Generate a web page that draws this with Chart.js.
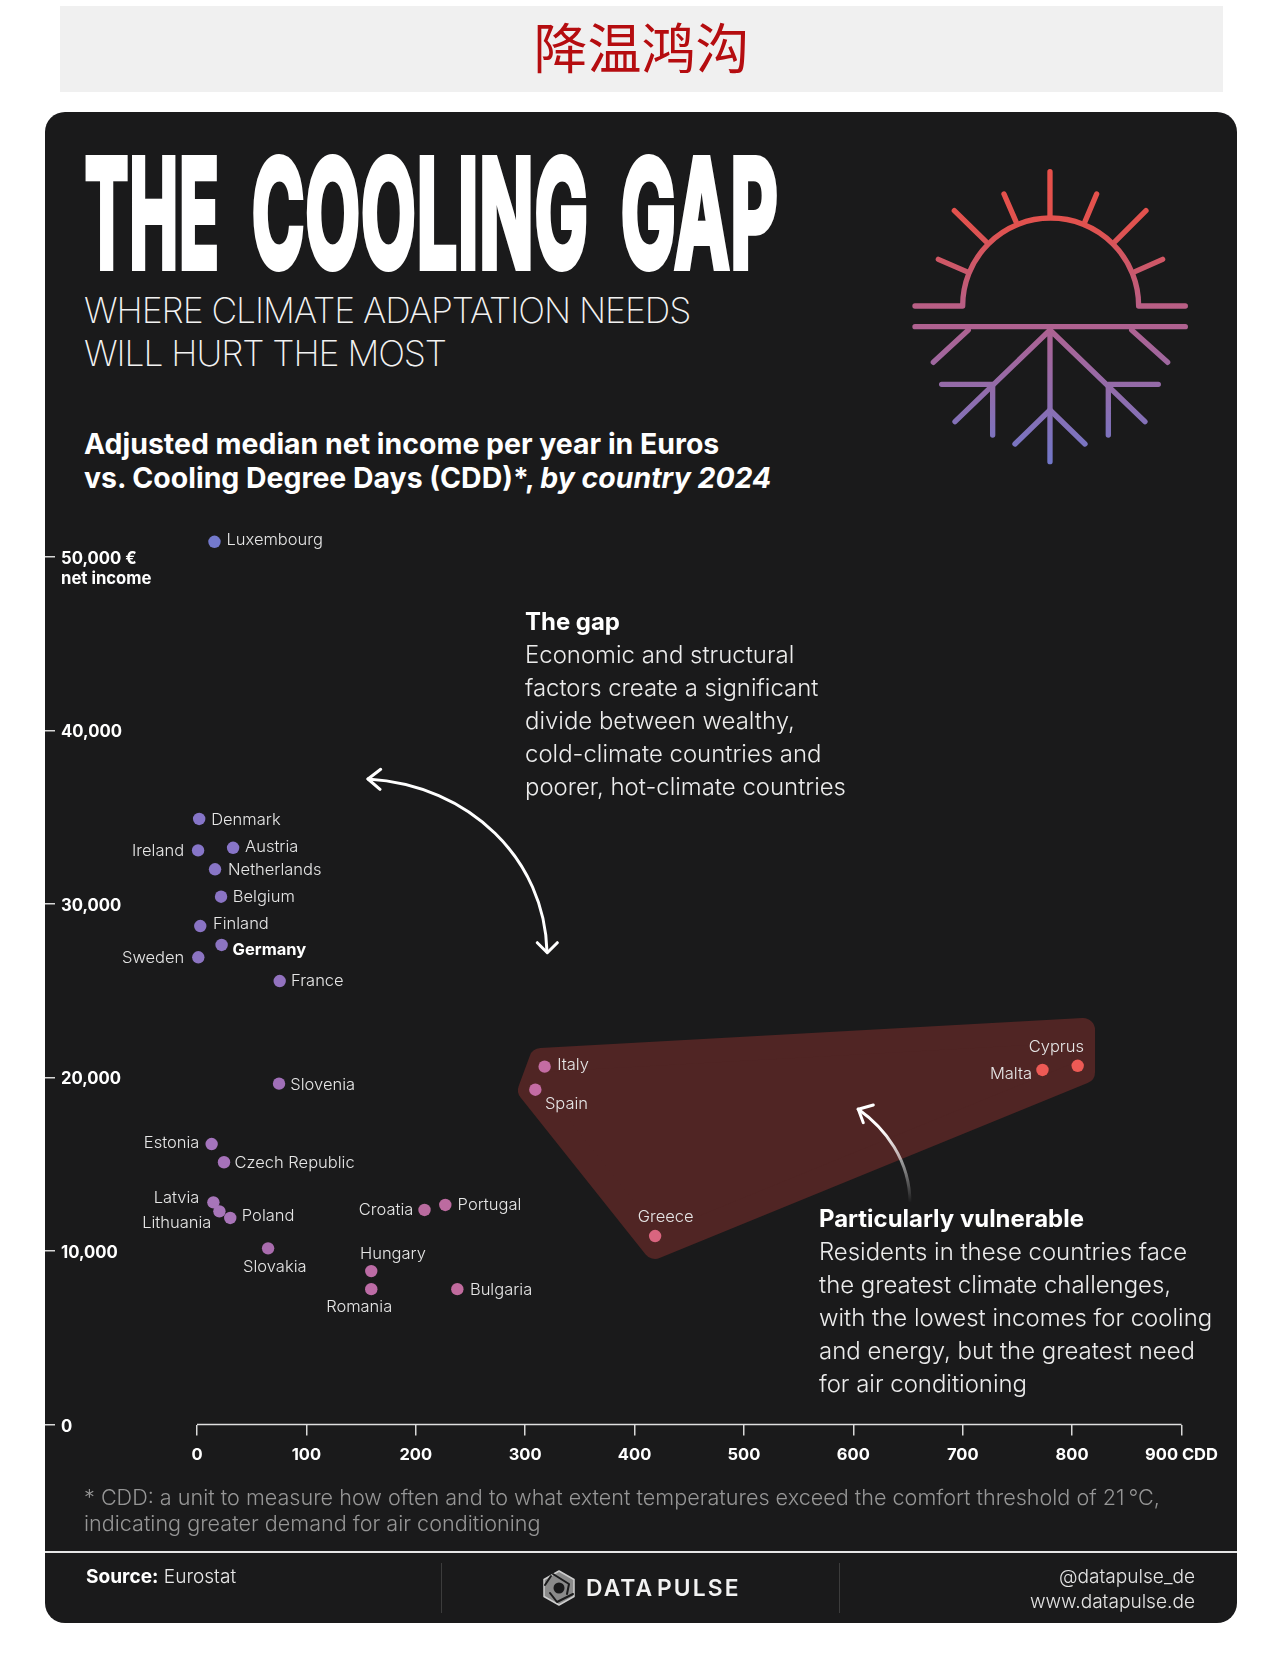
<!DOCTYPE html>
<html>
<head>
<meta charset="utf-8">
<title>The Cooling Gap</title>
<script src="https://cdn.jsdelivr.net/npm/chart.js@4/dist/chart.umd.min.js"></script>
<style>
    html, body { margin: 0; padding: 0; background: #fff; }
    body { position: relative; width: 1280px; height: 1667px; overflow: hidden; font-family: Inter, sans-serif; color: #fff; }
    .abs { position: absolute; white-space: nowrap; }
    #banner { left: 60px; top: 6px; width: 1163px; height: 86px; background: #f0f0f0; }
    #cn { left: 60px; top: 3px; width: 1163px; text-align: center; color: #b50d10; font: 400 54px/86px "Noto Sans CJK SC"; }
    #card { left: 45px; top: 112px; width: 1192px; height: 1511px; background: #1a1a1b; border-radius: 20px; }
    #bigTitle span { position: absolute; top: 140px; font-family: "Liberation Sans Narrow", Inter, sans-serif; font-weight: 700; font-size: 148px; line-height: 148px; letter-spacing: 3px; transform-origin: left top; -webkit-text-stroke: 8px #fff; }
    #sub { left: 84px; top: 289px; font-weight: 200; font-size: 35.5px; line-height: 43px; letter-spacing: -1.07px; color: #f2f2f2; }
    #heading { left: 84px; top: 427px; font-weight: 700; font-size: 28.45px; line-height: 34px; }
    #chart { position: absolute; left: 0; top: 0; }
    .note { font-weight: 300; font-size: 23.95px; line-height: 33px; color: #ececec; }
    .note b { font-weight: 700; color: #fff; }
    #foot { left: 84px; top: 1484px; font-weight: 300; font-size: 21.6px; line-height: 26px; color: #969696; }
    #rule { left: 45px; top: 1551px; width: 1192px; height: 2px; background: #e6e6e6; }
    .div { top: 1563px; width: 1px; height: 50px; background: #3c3c3c; }
    #source { left: 86px; top: 1563px; font-size: 19.1px; line-height: 26px; font-weight: 300; color: #e8e8e8; }
    #source b { font-weight: 700; color: #fff; }
    #links { right: 85px; top: 1564px; text-align: right; font-size: 19.1px; line-height: 25px; font-weight: 300; color: #e4e4e4; }
    #logoText { left: 586px; top: 1572px; font-weight: 600; font-size: 22.8px; line-height: 32px; letter-spacing: 2.1px; word-spacing: -5px; color: #f2f2f2; }
    #netIncome { left: 61px; top: 567px; font-weight: 700; font-size: 16.7px; line-height: 22px; }
    svg { position: absolute; left: 0; top: 0; }
</style>
</head>
<body>
<div id="banner" class="abs"></div>
<div id="cn" class="abs">降温鸿沟</div>
<div id="card" class="abs"></div>
<div id="bigTitle"><span data-w="135" style="left:85px">THE</span> <span data-w="337" style="left:252px">COOLING</span> <span data-w="158" style="left:621px">GAP</span></div>
<div id="sub" class="abs">WHERE CLIMATE ADAPTATION NEEDS<br>WILL HURT THE MOST</div>
<div id="heading" class="abs">Adjusted median net income per year in Euros<br>vs. Cooling Degree Days (CDD)*, <i>by country 2024</i></div>

<canvas id="chart" width="1280" height="1667"></canvas>

<svg width="1280" height="1667" fill="none" stroke-linecap="round" stroke-linejoin="round">
    <defs>
        <linearGradient id="iconGrad" gradientUnits="userSpaceOnUse" x1="0" y1="60" x2="0" y2="935">
            <stop offset="0" stop-color="#e8504a"/>
            <stop offset="0.2" stop-color="#e0524f"/>
            <stop offset="0.5" stop-color="#b4608c"/>
            <stop offset="1" stop-color="#7277c8"/>
        </linearGradient>
        <linearGradient id="arrowGrad" gradientUnits="userSpaceOnUse" x1="0" y1="1130" x2="0" y2="1203">
            <stop offset="0" stop-color="#fff"/>
            <stop offset="1" stop-color="#fff" stop-opacity="0"/>
        </linearGradient>
    </defs>
    <g transform="translate(900 150) scale(0.3333)" stroke="url(#iconGrad)" stroke-width="16">
        <path d="M45 468H188A264 264 0 0 1 716 468H856"/>
        <path d="M45 530H856"/>
        <path d="M450 65V200M312 132L348 215M590 132L555 215M163 182L258 275M738 182L645 275M115 328L200 365M788 328L705 365"/>
        <path d="M450 540V935M205 540L100 637M695 540L803 637M450 540L165 815M450 540L735 815"/>
        <path d="M278 703H125M625 703H775M278 703V855M625 703V855M450 780L345 882M450 780L555 882"/>
    </g>
    <g stroke="#fff" stroke-width="3">
        <path d="M368 779C470 785 545 860 547 952"/>
        <path d="M380.7 769.3L368 779L380 789.3M537.3 942.7L547.3 952.7L557.3 942.7"/>
    </g>
    <path d="M858 1109C885 1128 910 1160 910 1203" stroke="url(#arrowGrad)" stroke-width="3"/>
    <path d="M873.3 1105L858.3 1109.3L863.3 1122.7" stroke="#fff" stroke-width="3"/>
    <g transform="translate(559 1588)">
        <path d="M0 -17L15 -8.5V8.5L0 17L-15 8.5V-8.5Z" fill="#8a8a8a" stroke="#cfcfcf" stroke-width="1.5"/>
        <path d="M-6 -14L10 -4L8 6M14 6L-2 14L-9 5M-14 -3L-8 -12" stroke="#1a1a1b" stroke-width="2"/>
        <circle r="5.5" fill="#1a1a1b"/>
    </g>
</svg>

<div id="netIncome" class="abs">net income</div>
<div class="abs note" style="left:525px;top:605px"><b>The gap</b><br>Economic and structural<br>factors create a significant<br>divide between wealthy,<br>cold-climate countries and<br>poorer, hot-climate countries</div>
<div class="abs note" style="left:819px;top:1202px"><b>Particularly vulnerable</b><br>Residents in these countries face<br>the greatest climate challenges,<br>with the lowest incomes for cooling<br>and energy, but the greatest need<br>for air conditioning</div>
<div id="foot" class="abs">* CDD: a unit to measure how often and to what extent temperatures exceed the comfort threshold of 21&#8201;°C,<br>indicating greater demand for air conditioning</div>
<div id="rule" class="abs"></div>
<div class="abs div" style="left:441px"></div>
<div class="abs div" style="left:839px"></div>
<div id="source" class="abs"><b>Source:</b> Eurostat</div>
<div id="logoText" class="abs">DATA PULSE</div>
<div id="links" class="abs">@datapulse_de<br>www.datapulse.de</div>

<script>
// values
const countries = ['Luxembourg', 'Denmark', 'Ireland', 'Austria', 'Netherlands', 'Belgium', 'Finland', 'Germany', 'Sweden', 'France',
    'Slovenia', 'Estonia', 'Czech Republic', 'Latvia', 'Lithuania', 'Poland', 'Slovakia', 'Croatia', 'Portugal', 'Hungary',
    'Romania', 'Bulgaria', 'Italy', 'Spain', 'Greece', 'Malta', 'Cyprus'];
const cdd = [16, 2, 1, 33, 16.5, 22, 3, 22.5, 1.2, 75.6,
    75, 13.4, 24.7, 15, 20.5, 30.4, 65, 208, 227, 159.3,
    159.3, 238, 317.8, 309.3, 418.8, 772.9, 805.1];
const income = [50860, 34890, 33080, 33230, 31990, 30410, 28720, 27630, 26920, 25550,
    19640, 16160, 15110, 12800, 12280, 11900, 10150, 12360, 12650, 8840,
    7800, 7800, 20620, 19290, 10860, 20430, 20670];

const xTickValues = [0, 100, 200, 300, 400, 500, 600, 700, 800, 900];
const xTickLabels = ['0', '100', '200', '300', '400', '500', '600', '700', '800', '900 CDD'];
const yTickValues = [0, 10000, 20000, 30000, 40000, 50000];
const yTickLabels = ['0', '10,000', '20,000', '30,000', '40,000', '50,000 €'];

// highlighted zone, corners in data units
const zoneCdd = [314.5, 304.4, 418.7, 810, 810];
const zoneIncome = [21000, 19270, 10230, 20310, 22730];

const pointColors = ['#7379cc', '#8675c8', '#8675c8', '#8875c8', '#8875c6', '#8a74c4', '#8a74c4', '#8c74c2', '#8c74c2', '#9272bf',
    '#a06fb8', '#a474bd', '#a672ba', '#a775b9', '#a775b9', '#a874b8', '#a96cae', '#b96b9f', '#bc6ba0', '#bd6ca6',
    '#bd6ca6', '#c16b9e', '#c46ca3', '#c46ca3', '#d9657f', '#ed5a55', '#ed5a55'];

// [dx, dy, align] of each label from its dot
const labelPlace = {
    Luxembourg: [12, -1.7, 'left'], Denmark: [12, 0.7, 'left'], Ireland: [-14, 1, 'right'], Austria: [12, -0.3, 'left'],
    Netherlands: [13, 0.7, 'left'], Belgium: [11.7, 0.3, 'left'], Finland: [12.7, -1.7, 'left'], Germany: [11, 5, 'left'],
    Sweden: [-14, 0.7, 'right'], France: [11.3, 0.3, 'left'], Slovenia: [11.3, 1, 'left'], Estonia: [-12.3, -0.7, 'right'],
    'Czech Republic': [10.5, 0.3, 'left'], Latvia: [-14, -4, 'right'], Lithuania: [-8, 12, 'right'], Poland: [11.6, -1.7, 'left'],
    Slovakia: [-25, 18.7, 'left'], Croatia: [-11.2, 0.3, 'right'], Portugal: [12.3, 0.3, 'left'], Hungary: [-11.3, -17.4, 'left'],
    Romania: [21, 18, 'right'], Bulgaria: [12.6, 1, 'left'], Italy: [12.5, -1.3, 'left'], Spain: [9.6, 14, 'left'],
    Greece: [-17.4, -19, 'left'], Malta: [-10.4, 4.3, 'right'], Cyprus: [6.3, -18.7, 'right']
};

document.querySelectorAll('#bigTitle span').forEach(word => {
    word.style.transform = 'scaleX(' + (word.dataset.w / word.getBoundingClientRect().width) + ')';
});

const zonePlugin = {
    id: 'zone',
    beforeDatasetsDraw(chart) {
        const {ctx, scales} = chart;
        ctx.save();
        ctx.beginPath();
        zoneCdd.forEach((v, i) => {
            ctx.lineTo(scales.x.getPixelForValue(v), scales.y.getPixelForValue(zoneIncome[i]));
        });
        ctx.closePath();
        ctx.fillStyle = '#502524';
        ctx.strokeStyle = '#502524';
        ctx.lineWidth = 24;
        ctx.lineJoin = 'round';
        ctx.fill();
        ctx.stroke();
        ctx.restore();
    }
};

const labelPlugin = {
    id: 'countryLabels',
    afterDatasetsDraw(chart) {
        const {ctx, scales} = chart;
        ctx.save();
        ctx.textBaseline = 'middle';
        countries.forEach((name, i) => {
            const [dx, dy, align] = labelPlace[name];
            const bold = name === 'Germany';
            ctx.font = (bold ? '700 16.5px' : '300 16.5px') + ' Inter';
            ctx.fillStyle = bold ? '#fff' : '#e6e6e6';
            ctx.textAlign = align;
            ctx.fillText(name, scales.x.getPixelForValue(cdd[i]) + dx, scales.y.getPixelForValue(income[i]) + dy);
        });
        ctx.restore();
    }
};

new Chart(document.getElementById('chart'), {
    type: 'scatter',
    data: {
        datasets: [{
            data: countries.map((c, i) => ({x: cdd[i], y: income[i]})),
            backgroundColor: pointColors,
            pointRadius: 6.2,
            borderWidth: 0,
            clip: false
        }, {
            type: 'line',
            data: [{x: xTickValues[0], y: 0}, {x: xTickValues[9], y: 0}],
            borderColor: '#e0e0e0',
            borderWidth: 1.5,
            pointRadius: 0,
            clip: false
        }]
    },
    plugins: [zonePlugin, labelPlugin],
    options: {
        responsive: false,
        animation: false,
        layout: {padding: {left: 45, right: 98.5, top: 487.3, bottom: 182.5}},
        plugins: {legend: {display: false}, tooltip: {enabled: false}},
        scales: {
            x: {
                type: 'linear',
                min: -129.8,
                max: 900,
                afterBuildTicks: scale => { scale.ticks = xTickValues.map(value => ({value})); },
                afterFit: scale => { scale.height = 60; },
                border: {display: false},
                grid: {drawOnChartArea: false, tickLength: 11, color: '#d8d8d8', lineWidth: 1.5},
                ticks: {
                    autoSkip: false,
                    maxRotation: 0,
                    padding: 9.5,
                    color: '#fff',
                    font: {family: 'Inter', size: 16.5, weight: 700},
                    callback: (value, index) => xTickLabels[index]
                }
            },
            y: {
                type: 'linear',
                min: 0,
                max: 54000,
                afterBuildTicks: scale => { scale.ticks = yTickValues.map(value => ({value})); },
                afterFit: scale => { scale.width = 10; },
                border: {display: false},
                grid: {drawOnChartArea: false, tickLength: 10, color: '#d8d8d8', lineWidth: 1.5},
                ticks: {
                    mirror: true,
                    padding: 6,
                    labelOffset: 2,
                    color: '#fff',
                    font: {family: 'Inter', size: 16.7, weight: 700},
                    callback: (value, index) => yTickLabels[index]
                }
            }
        }
    }
});
</script>
</body>
</html>
